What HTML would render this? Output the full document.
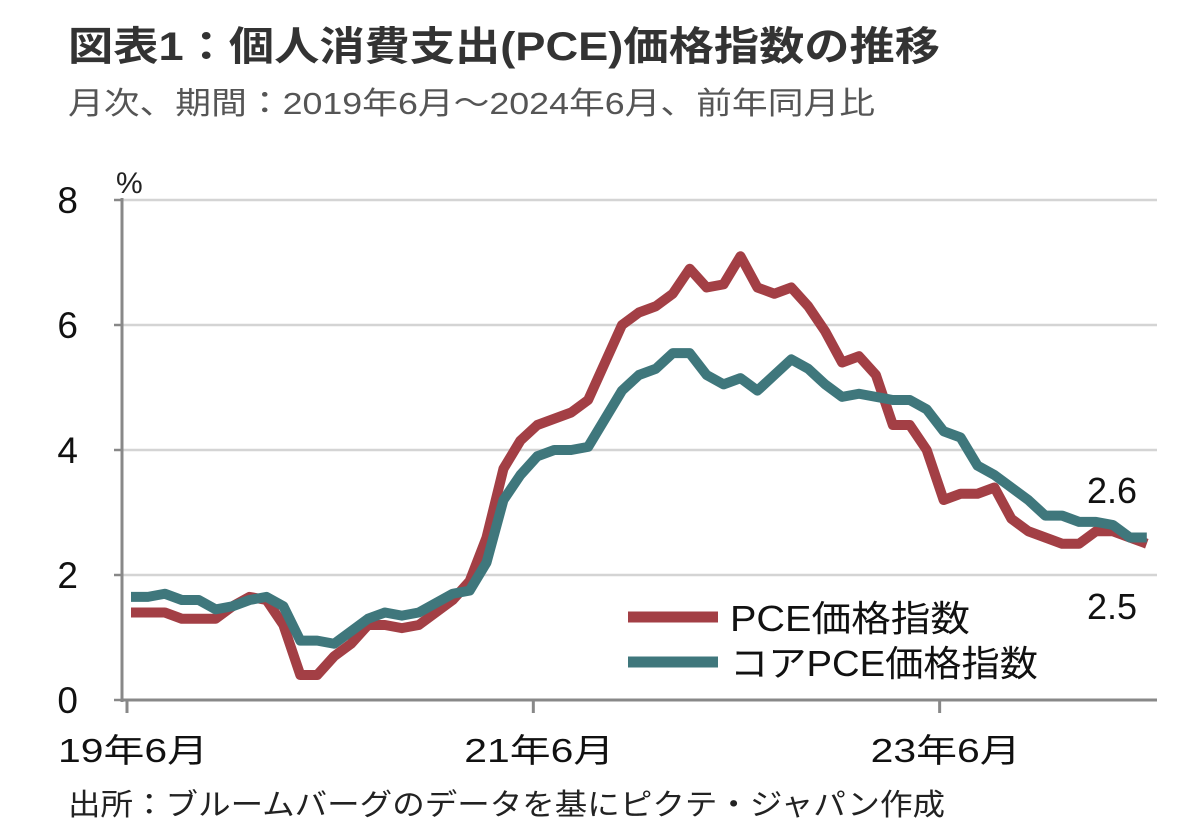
<!DOCTYPE html>
<html><head><meta charset="utf-8"><style>
body{margin:0;background:#fff;}
svg text{font-family:"Liberation Sans","Noto Sans CJK JP",sans-serif;}
</style></head><body>
<svg width="1200" height="829" viewBox="0 0 1200 829">
<text x="68" y="60" font-size="40" font-weight="bold" fill="#333" textLength="872" lengthAdjust="spacingAndGlyphs">図表1：個人消費支出(PCE)価格指数の推移</text>
<text x="68" y="114" font-size="31" fill="#555" textLength="807" lengthAdjust="spacingAndGlyphs">月次、期間：2019年6月～2024年6月、前年同月比</text>
<text x="116" y="193" font-size="30" fill="#222">%</text>
<g id="grid"></g><g id="axes"></g><g id="series"></g>
<text x="1087" y="503" font-size="36" fill="#111">2.6</text>
<text x="1087" y="619" font-size="36" fill="#111">2.5</text>
<g>
<line x1="628" y1="617" x2="718" y2="617" stroke="#a33f45" stroke-width="11"/>
<text x="730" y="631" font-size="36" fill="#111" textLength="240" lengthAdjust="spacingAndGlyphs">PCE価格指数</text>
<line x1="628" y1="662" x2="718" y2="662" stroke="#3f777c" stroke-width="11"/>
<text x="730" y="676" font-size="36" fill="#111" textLength="308" lengthAdjust="spacingAndGlyphs">コアPCE価格指数</text>
</g>
<text x="68" y="815" font-size="30" fill="#222" textLength="877" lengthAdjust="spacingAndGlyphs">出所：ブルームバーグのデータを基にピクテ・ジャパン作成</text>
</svg>
<script>
const yTicks=[0,2,4,6,8];
const xTickIdx=[0,24,48];
const xTickLabels=["19年6月","21年6月","23年6月"];
const pce=[1.4,1.4,1.4,1.3,1.3,1.3,1.5,
1.65,1.6,1.2,0.4,0.4,0.7,0.9,1.2,1.2,1.15,1.2,1.4,
1.6,1.9,2.6,3.7,4.15,4.4,4.5,4.6,4.8,5.4,6.0,6.2,
6.3,6.5,6.9,6.6,6.65,7.1,6.6,6.5,6.6,6.3,5.9,5.4,
5.5,5.2,4.4,4.4,4.0,3.2,3.3,3.3,3.4,2.9,2.7,2.6,
2.5,2.5,2.7,2.7,2.6,2.5];
const core=[1.65,1.65,1.7,1.6,1.6,1.45,1.5,
1.6,1.65,1.5,0.95,0.95,0.9,1.1,1.3,1.4,1.35,1.4,1.55,
1.7,1.75,2.2,3.2,3.6,3.9,4.0,4.0,4.05,4.5,4.95,5.2,
5.3,5.55,5.55,5.2,5.05,5.15,4.95,5.2,5.45,5.3,5.05,4.85,
4.9,4.85,4.8,4.8,4.65,4.3,4.2,3.75,3.6,3.4,3.2,2.95,
2.95,2.85,2.85,2.8,2.6,2.6];
const NS="http://www.w3.org/2000/svg";
const X=i=>131+i*16.93, Y=v=>700-v*62.5;
function mk(t,a,p){const e=document.createElementNS(NS,t);for(const k in a)e.setAttribute(k,a[k]);p.appendChild(e);return e;}
const grid=document.getElementById('grid'),axes=document.getElementById('axes'),ser=document.getElementById('series');
yTicks.forEach(v=>{
 if(v>0){const g=mk('line',{x1:122,x2:1157,y1:Y(v),y2:Y(v),stroke:'#d4d4d4','stroke-width':2.5},grid);
 
 }
 const t=mk('text',{x:78,y:Y(v)+13,'font-size':37,fill:'#111','text-anchor':'end'},axes);t.textContent=v;
 
 
 const tk=mk('line',{x1:114,x2:122,y1:Y(v),y2:Y(v),stroke:'#888','stroke-width':2.5},axes);
 
 
});
const ya=mk('line',{x1:122,x2:122,y1:198,y2:702,stroke:'#888','stroke-width':3},axes);


const xa=mk('line',{x1:122,x2:1157,y1:700,y2:700,stroke:'#888','stroke-width':3},axes);


xTickIdx.forEach((i,k)=>{
 const x=X(i)-4;
 const tk=mk('line',{x1:x,x2:x,y1:700,y2:713,stroke:'#888','stroke-width':3},axes);
 
 
 const t=mk('text',{x:x-69,y:762,'font-size':33,fill:'#111',textLength:150,lengthAdjust:'spacingAndGlyphs'},axes);t.textContent=xTickLabels[k];
 
 
});
function line(d,c,n){const p=mk('polyline',{points:d.map((v,i)=>X(i)+','+Y(v)).join(' '),fill:'none',stroke:c,'stroke-width':10,'stroke-linejoin':'round'},ser);
 
 }
line(pce,'#a33f45','pce-line');
line(core,'#3f777c','core-pce-line');
</script>
</body></html>
